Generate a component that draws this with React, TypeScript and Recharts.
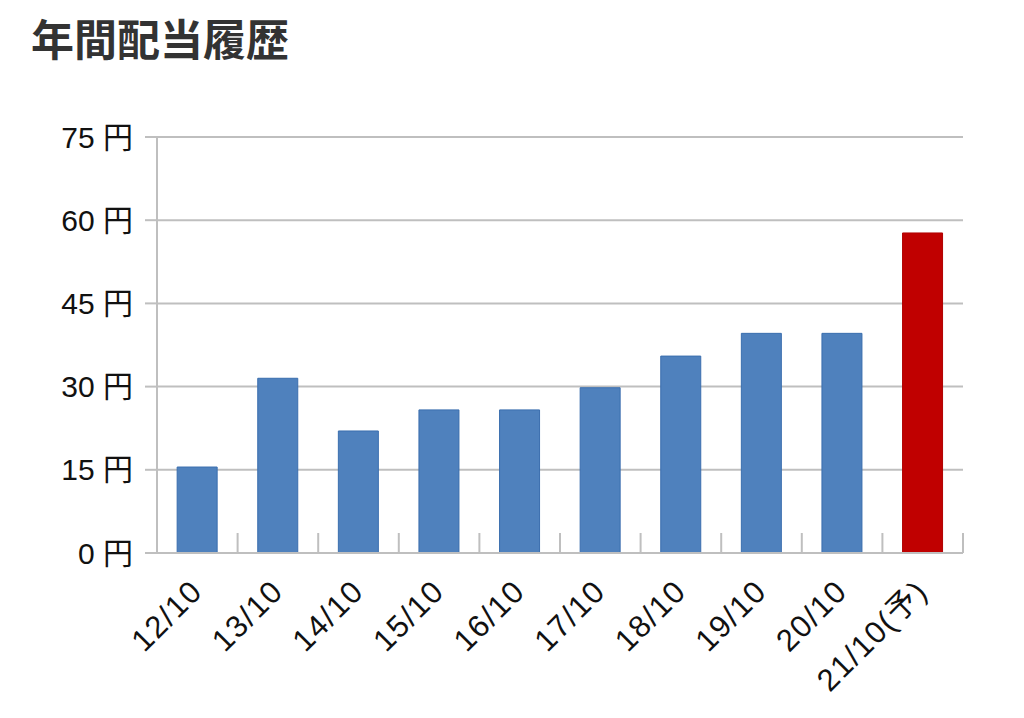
import { BarChart, Bar, XAxis, YAxis, CartesianGrid, Cell } from 'recharts';

// fiscal years (forecast marked with 予)
const years = ['12/10', '13/10', '14/10', '15/10', '16/10', '17/10', '18/10', '19/10', '20/10', '21/10(予)'];
const dividends = [15.5, 31.5, 22, 25.8, 25.8, 29.8, 35.5, 39.6, 39.6, 57.7];
const isForecast = [false, false, false, false, false, false, false, false, false, true];
const yTicks = [0, 15, 30, 45, 60, 75];

const data = years.map((name, i) => ({ name, value: dividends[i], forecast: isForecast[i] }));

const GRID = '#bfbfbf';
const FONT = "'Liberation Sans', 'Noto Sans CJK JP', sans-serif";

function YearTick(props: any) {
  const { x, y, payload } = props;
  const half = payload.offset ?? 40.3;
  const tx = x + 7;
  const ty = y + 40;
  return (
    <g>
      {/* boundary tick marks point up into the plot */}
      <line x1={x + half} x2={x + half} y1={y} y2={y - 20} stroke={GRID} strokeWidth={2} />
      <text
        x={tx}
        y={ty}
        transform={`rotate(-45, ${tx}, ${ty})`}
        textAnchor="end"
        fontSize={31}
        letterSpacing={1.5}
        fontFamily={FONT}
        fill="#111"
      >
        {payload.value}
      </text>
    </g>
  );
}

export default function App() {
  return (
    <div style={{ position: 'relative', width: 1008, height: 702, background: '#fff' }}>
      <div
        style={{
          position: 'absolute',
          left: 23,
          top: 8,
          fontSize: 43,
          lineHeight: 1,
          fontWeight: 700,
          color: '#333',
          fontFamily: "'Noto Sans CJK JP', sans-serif",
        }}
      >
        年間配当履歴
      </div>
      <BarChart
        width={1000}
        height={700}
        data={data}
        margin={{ top: 129, right: 45, bottom: 35, left: 0 }}
        barCategoryGap="25%"
      >
        <CartesianGrid vertical={false} stroke={GRID} strokeWidth={2} />
        <XAxis
          dataKey="name"
          interval={0}
          height={120}
          tickLine={false}
          tickSize={0}
          tickMargin={0}
          axisLine={{ stroke: GRID, strokeWidth: 2 }}
          tick={<YearTick />}
        />
        <YAxis
          width={149}
          domain={[0, 75]}
          ticks={yTicks}
          tickFormatter={(v) => `${v} 円`}
          tickSize={12}
          tickMargin={12}
          axisLine={{ stroke: GRID, strokeWidth: 2 }}
          tickLine={{ stroke: GRID, strokeWidth: 2 }}
          tick={{ fontSize: 30, fill: '#111', fontFamily: FONT }}
        />
        <Bar dataKey="value" isAnimationActive={false}>
          {data.map((d, i) => (
            <Cell
              key={i}
              fill={d.forecast ? '#c00000' : '#4f81bd'}
              stroke={d.forecast ? '#b00000' : '#3a6eae'}
              strokeWidth={1}
            />
          ))}
        </Bar>
      </BarChart>
    </div>
  );
}
